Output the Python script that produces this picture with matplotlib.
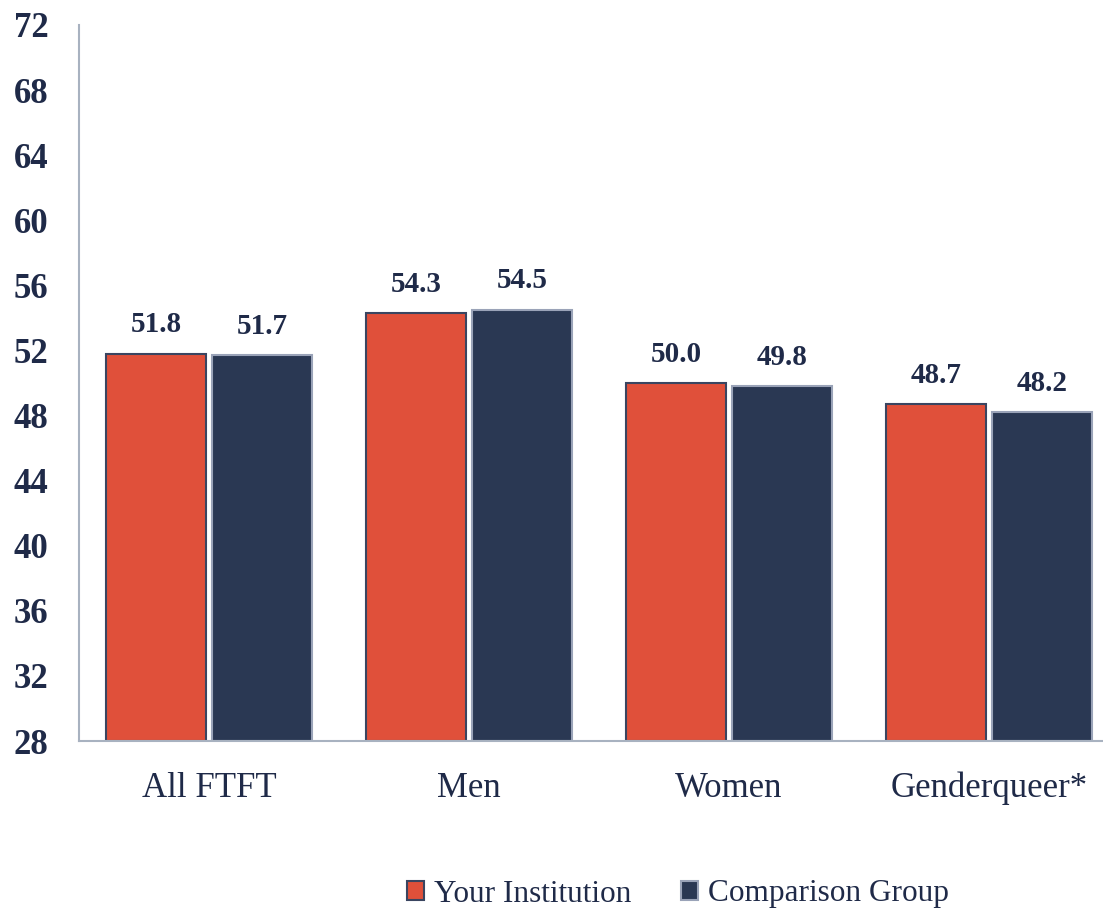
import matplotlib
matplotlib.use("Agg")
import matplotlib.pyplot as plt
import numpy as np

categories = ["All FTFT", "Men", "Women", "Genderqueer*"]
your_institution = [51.8, 54.3, 50.0, 48.7]
comparison_group = [51.7, 54.5, 49.8, 48.2]
series_names = ["Your Institution", "Comparison Group"]
yticks = list(range(28, 73, 4))

RED = "#E0503A"
NAVY = "#2A3853"
TXT = "#1F2A48"
SPINE = "#A8B2C0"

plt.rcParams['font.family'] = ['Liberation Serif', 'DejaVu Serif']

fig = plt.figure(figsize=(11.03, 9.10), dpi=100)
ax = fig.add_axes([79/1103, 169/910, (1103-79)/1103, 716/910])

x = np.arange(len(categories))
w = 0.385
off = 0.204
b1 = ax.bar(x - off, np.array(your_institution) - 28, w, bottom=28, color=RED,
            edgecolor="#3A4560", linewidth=1.5, label=series_names[0])
b2 = ax.bar(x + off, np.array(comparison_group) - 28, w, bottom=28, color=NAVY,
            edgecolor="#9AA3B8", linewidth=1.5, label=series_names[1])

for bars, vals in ((b1, your_institution), (b2, comparison_group)):
    for r, v in zip(bars, vals):
        ax.annotate(f"{v:.1f}", (r.get_x() + r.get_width()/2, v), xytext=(0, 11),
                    textcoords="offset points", ha="center", va="bottom",
                    fontsize=21, fontweight="bold", color=TXT)

ax.set_ylim(28, 72)
ax.set_xlim(-0.5, -0.5 + 1024/260)
ax.set_yticks(yticks)
ax.set_yticklabels([str(t) for t in yticks], fontsize=25, fontweight="bold", color=TXT)
ax.set_xticks(x)
ax.set_xticklabels(categories, fontsize=25, color=TXT)
ax.tick_params(axis="both", length=0)
ax.tick_params(axis="y", pad=22)
ax.tick_params(axis="x", pad=22)
for s in ["top", "right"]:
    ax.spines[s].set_visible(False)
for s in ["left", "bottom"]:
    ax.spines[s].set_color(SPINE)
    ax.spines[s].set_linewidth(1.5)

leg = fig.legend(handles=[b1, b2], labels=series_names, loc="center",
                 bbox_to_anchor=(678/1103, 1 - 894/910), ncol=2, frameon=False,
                 fontsize=22.5, handlelength=0.55, handleheight=0.55, handletextpad=0.3,
                 columnspacing=1.6, labelcolor=TXT)

fig.savefig("out.png", dpi=100)
